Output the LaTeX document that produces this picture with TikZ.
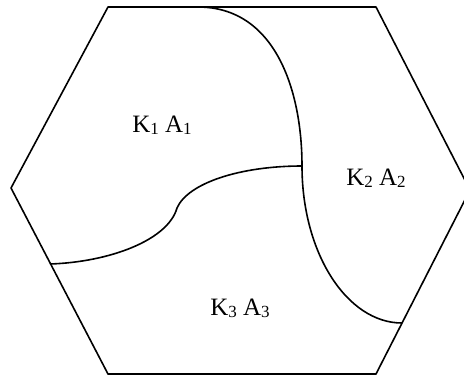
\documentclass[tikz,border=0pt]{standalone}
\usepackage{fontspec}
\setmainfont{Liberation Serif}
\begin{document}
\begin{tikzpicture}[x=1pt,y=-1pt,
  edge/.style={line width=1.6pt,line join=round},
  lbl/.style={anchor=base,inner sep=0pt,font=\fontsize{25}{25}\selectfont}]
\newcommand{\lsub}[1]{\raisebox{-2pt}{\fontsize{17}{17}\selectfont #1}}
\useasboundingbox (0,0) rectangle (464,376);
\coordinate (h1) at (108,7);
\coordinate (h2) at (376,7);
\coordinate (h3) at (470,190);
\coordinate (h4) at (376,374);
\coordinate (h5) at (108,374);
\coordinate (h6) at (11,188);
\draw[edge] (h1) -- (h2) -- (h3) -- (h4) -- (h5) -- (h6) -- cycle;
\coordinate (t) at (198,7);
\coordinate (j) at (302,166);
\coordinate (r) at (402,323);
\coordinate (m) at (177,208);
\coordinate (l) at (50,264);
\draw[edge] (t) .. controls (275,7) and (302,90) .. (j)
  .. controls (302,253) and (347,323) .. (r);
\draw[edge] (j) .. controls (240,166) and (188,183) .. (m)
  .. controls (168,240) and (110,262) .. (l);
\node[lbl] (k1) at (162,132.5) {K\lsub{1} A\lsub{1}};
\node[lbl] (k2) at (376,185) {K\lsub{2} A\lsub{2}};
\node[lbl] (k3) at (240,315) {K\lsub{3} A\lsub{3}};
\end{tikzpicture}
\end{document}
